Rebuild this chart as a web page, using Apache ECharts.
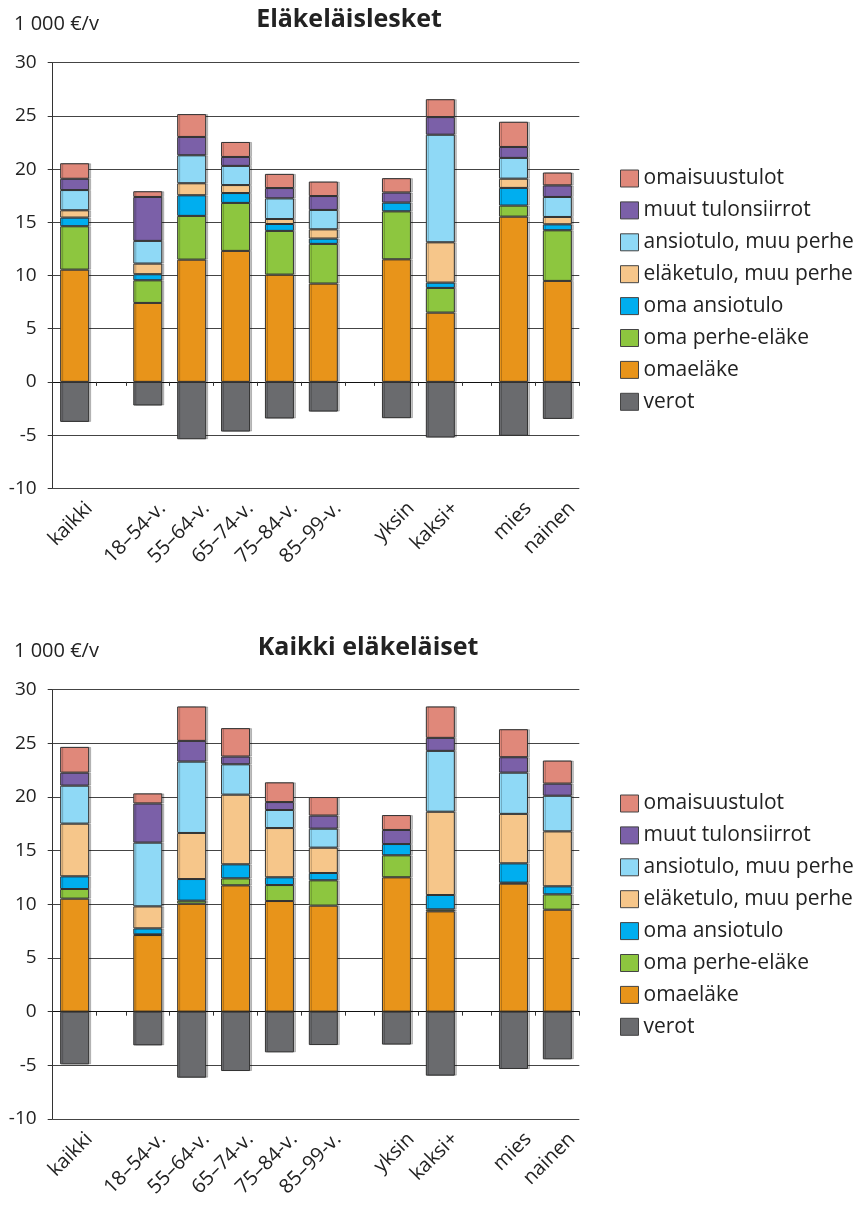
<!DOCTYPE html>
<html><head><meta charset="utf-8">
<script src="https://cdn.jsdelivr.net/npm/echarts@6/dist/echarts.min.js"></script>
<style>html,body{margin:0;padding:0;background:#fff}#c{width:863px;height:1208px}</style>
</head><body><div id="c"></div>
<script>
// ---- data ----
const categories = ['kaikki', '18–54-v.', '55–64-v.', '65–74-v.', '75–84-v.', '85–99-v.', 'yksin', 'kaksi+', 'mies', 'nainen'];
const categoryGroups = [0, 1, 1, 1, 1, 1, 2, 2, 3, 3];
const seriesNames = ['omaisuustulot', 'muut tulonsiirrot', 'ansiotulo, muu perhe', 'eläketulo, muu perhe', 'oma ansiotulo', 'oma perhe-eläke', 'omaeläke', 'verot'];
const yTickValues = [-10, -5, 0, 5, 10, 15, 20, 25, 30];
const titleTop = 'Eläkeläislesket';
const titleBottom = 'Kaikki eläkeläiset';
const unitLabel = '1 000 €/v';

// Eläkeläislesket
const leskOmaelake      = [10.55, 7.42, 11.49, 12.31, 10.08, 9.24, 11.52, 6.51, 15.53, 9.49];
const leskPerheElake    = [4.08, 2.13, 4.11, 4.51, 4.11, 3.73, 4.51, 2.32, 1.04, 4.76];
const leskOmaAnsio      = [0.81, 0.57, 1.94, 0.93, 0.65, 0.50, 0.82, 0.50, 1.66, 0.56];
const leskElakeMuu      = [0.69, 1.00, 1.13, 0.75, 0.47, 0.87, null, 3.79, 0.87, 0.69];
const leskAnsioMuu      = [1.90, 2.13, 2.63, 1.80, 1.94, 1.82, null, 10.11, 1.95, 1.88];
const leskMuut          = [1.06, 4.13, 1.72, 0.84, 0.97, 1.31, 0.95, 1.66, 1.03, 1.09];
const leskOmaisuus      = [1.46, 0.54, 2.15, 1.41, 1.33, 1.36, 1.35, 1.68, 2.37, 1.21];
const leskVerot         = [-3.76, -2.22, -5.39, -4.67, -3.44, -2.79, -3.41, -5.23, -5.07, -3.48];

// Kaikki eläkeläiset
const kaikkiOmaelake    = [10.53, 7.14, 10.06, 11.77, 10.31, 9.88, 12.52, 9.35, 11.93, 9.50];
const kaikkiPerheElake  = [0.90, 0.06, 0.28, 0.65, 1.49, 2.36, 2.05, 0.18, 0.09, 1.43];
const kaikkiOmaAnsio    = [1.18, 0.56, 2.02, 1.31, 0.72, 0.68, 1.05, 1.34, 1.80, 0.75];
const kaikkiElakeMuu    = [4.91, 2.05, 4.29, 6.49, 4.59, 2.36, null, 7.76, 4.61, 5.12];
const kaikkiAnsioMuu    = [3.54, 5.94, 6.65, 2.83, 1.68, 1.77, null, 5.67, 3.84, 3.32];
const kaikkiMuut        = [1.21, 3.65, 1.93, 0.72, 0.74, 1.22, 1.31, 1.21, 1.44, 1.13];
const kaikkiOmaisuus    = [2.40, 0.94, 3.21, 2.65, 1.84, 1.73, 1.39, 2.93, 2.61, 2.15];
const kaikkiVerot       = [-4.91, -3.14, -6.15, -5.53, -3.79, -3.11, -3.07, -5.96, -5.34, -4.44];

// ---- styling ----
const colors = {
  'omaisuustulot': '#e0887a',
  'muut tulonsiirrot': '#7b60a8',
  'ansiotulo, muu perhe': '#8fd9f6',
  'eläketulo, muu perhe': '#f6c68a',
  'oma ansiotulo': '#00aeef',
  'oma perhe-eläke': '#8dc63f',
  'omaeläke': '#e8941a',
  'verot': '#6a6b6e'
};
const FONT = '"Open Sans", "Noto Sans", sans-serif';

// slot layout: each category 3 slots, gap between groups 2 slots
const slots = [];
const slotOfCat = [];
const boundaries = new Set();
categories.forEach((c, i) => {
  if (i > 0 && categoryGroups[i] !== categoryGroups[i - 1]) {
    boundaries.add(slots.length);
    slots.push('_g' + slots.length); slots.push('_g' + slots.length);
  }
  if (i > 0) boundaries.add(slots.length);
  slots.push('_s' + slots.length);
  slotOfCat.push(slots.length);
  slots.push('_c' + slots.length);
  slots.push('_s' + slots.length);
});
// label slots: the label is anchored one slot to the right of the bar centre
const labelSlots = slots.slice();
categories.forEach((c, i) => { labelSlots[slotOfCat[i] + 1] = c; });

function spread(arr) {
  const out = slots.map(() => null);
  arr.forEach((v, i) => { out[slotOfCat[i]] = v; });
  return out;
}

const panels = [
  { top: 62.7, height: 425.6, legendTop: 168,
    values: [leskOmaisuus, leskMuut, leskAnsioMuu, leskElakeMuu, leskOmaAnsio, leskPerheElake, leskOmaelake, leskVerot] },
  { top: 689.7, height: 429.3, legendTop: 793,
    values: [kaikkiOmaisuus, kaikkiMuut, kaikkiAnsioMuu, kaikkiElakeMuu, kaikkiOmaAnsio, kaikkiPerheElake, kaikkiOmaelake, kaikkiVerot] }
];

const grid = [], xAxis = [], yAxis = [], series = [], legend = [];
panels.forEach((p, pi) => {
  grid.push({ left: 52.7, width: 526.6, top: p.top, height: p.height });
  xAxis.push({
    type: 'category', gridIndex: pi, data: slots, position: 'bottom',
    axisLine: { onZero: true, lineStyle: { color: '#111', width: 1 } },
    axisTick: { show: true, length: 4, lineStyle: { color: '#333' },
      interval: (idx) => boundaries.has(idx) },
    axisLabel: { show: false }, splitLine: { show: false }
  });
  xAxis.push({
    type: 'category', gridIndex: pi, data: labelSlots, position: 'bottom',
    axisLine: { show: false, onZero: false }, axisTick: { show: false },
    axisLabel: { show: true, interval: 0, rotate: 45, margin: 17,
      fontFamily: FONT, fontSize: 20, color: '#222',
      formatter: (v) => (v.charAt(0) === '_' ? '' : v) },
    splitLine: { show: false }
  });
  yAxis.push({
    type: 'value', gridIndex: pi, min: yTickValues[0], max: yTickValues[yTickValues.length - 1],
    interval: yTickValues[1] - yTickValues[0],
    axisLine: { show: true, lineStyle: { color: '#333' } },
    axisTick: { show: true, length: 5, lineStyle: { color: '#333' } },
    axisLabel: { fontFamily: FONT, fontSize: 19, color: '#222', margin: 16 },
    splitLine: { show: true, lineStyle: { color: '#444', width: 1 } }
  });
  const order = [6, 5, 4, 3, 2, 1, 0, 7];
  order.forEach((k) => {
    series.push({
      name: seriesNames[k], type: 'bar', xAxisIndex: pi * 2, yAxisIndex: pi,
      stack: 'p' + pi, barWidth: 29,
      itemStyle: { color: colors[seriesNames[k]], borderColor: '#333', borderWidth: 1,
        shadowColor: 'rgba(0,0,0,0.22)', shadowOffsetX: 2, shadowOffsetY: 0, shadowBlur: 0 },
      emphasis: { disabled: true },
      data: spread(p.values[k])
    });
  });
  legend.push({
    orient: 'vertical', left: 620, top: p.legendTop, padding: 0, data: seriesNames,
    icon: 'rect', itemWidth: 18, itemHeight: 17, itemGap: 10.9,
    itemStyle: { borderColor: '#444', borderWidth: 1 },
    textStyle: { fontFamily: FONT, fontSize: 21, color: '#222' },
    selectedMode: false
  });
});

const graphic = [
  { type: 'text', x: 349, y: 20, style: { text: titleTop, font: 'bold 25px ' + FONT, fill: '#222', align: 'center', verticalAlign: 'middle', textAlign: 'center', textVerticalAlign: 'middle' } },
  { type: 'text', x: 14, y: 24, style: { text: unitLabel, font: '20px ' + FONT, fill: '#222', align: 'left', verticalAlign: 'middle', textAlign: 'left', textVerticalAlign: 'middle' } },
  { type: 'text', x: 368, y: 648, style: { text: titleBottom, font: 'bold 25px ' + FONT, fill: '#222', align: 'center', verticalAlign: 'middle', textAlign: 'center', textVerticalAlign: 'middle' } },
  { type: 'text', x: 14, y: 651, style: { text: unitLabel, font: '20px ' + FONT, fill: '#222', align: 'left', verticalAlign: 'middle', textAlign: 'left', textVerticalAlign: 'middle' } }
];

const chart = echarts.init(document.getElementById('c'), null, { renderer: 'canvas' });
chart.setOption({ animation: false, backgroundColor: '#fff', grid, xAxis, yAxis, series, legend, graphic });
</script></body></html>
